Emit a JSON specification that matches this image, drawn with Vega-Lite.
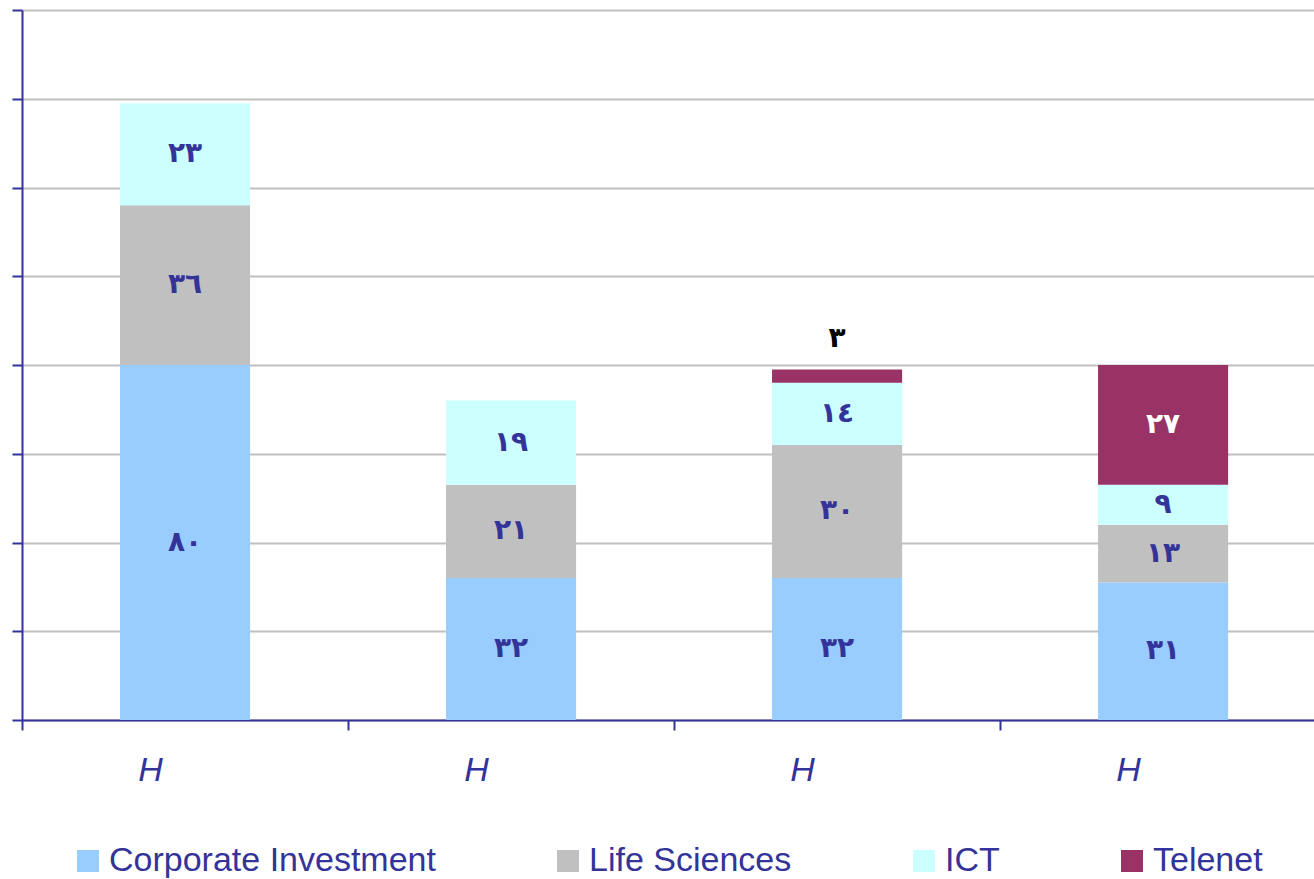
{
  "$schema": "https://vega.github.io/schema/vega-lite/v6.json",
  "width": 1292,
  "height": 710,
  "autosize": "none",
  "padding": {"left": 22, "top": 10, "right": 0, "bottom": 159},
  "background": "white",
  "config": {"view": {"stroke": null}},
  "data": {"values": [
    {"period": "1", "series": "Corporate Investment", "ord": 1, "value": 80, "label": "٨٠"},
    {"period": "1", "series": "Life Sciences", "ord": 2, "value": 36, "label": "٣٦"},
    {"period": "1", "series": "ICT", "ord": 3, "value": 23, "label": "٢٣"},
    {"period": "2", "series": "Corporate Investment", "ord": 1, "value": 32, "label": "٣٢"},
    {"period": "2", "series": "Life Sciences", "ord": 2, "value": 21, "label": "٢١"},
    {"period": "2", "series": "ICT", "ord": 3, "value": 19, "label": "١٩"},
    {"period": "3", "series": "Corporate Investment", "ord": 1, "value": 32, "label": "٣٢"},
    {"period": "3", "series": "Life Sciences", "ord": 2, "value": 30, "label": "٣٠"},
    {"period": "3", "series": "ICT", "ord": 3, "value": 14, "label": "١٤"},
    {"period": "3", "series": "Telenet", "ord": 4, "value": 3, "label": "٣"},
    {"period": "4", "series": "Corporate Investment", "ord": 1, "value": 31, "label": "٣١"},
    {"period": "4", "series": "Life Sciences", "ord": 2, "value": 13, "label": "١٣"},
    {"period": "4", "series": "ICT", "ord": 3, "value": 9, "label": "٩"},
    {"period": "4", "series": "Telenet", "ord": 4, "value": 27, "label": "٢٧"}
  ]},
  "encoding": {
    "x": {
      "field": "period", "type": "nominal", "sort": null,
      "scale": {"paddingInner": 0.601, "paddingOuter": 0.282, "align": 0.533},
      "axis": {
        "title": null, "labelExpr": "'H'", "labelAngle": 0,
        "tickOffset": -163, "labelOffset": 128,
        "labelFont": "Liberation Sans", "labelFontSize": 34, "labelFontStyle": "italic",
        "labelColor": "#333399", "labelPadding": 23,
        "domainColor": "#333399", "domainWidth": 2,
        "tickColor": "#333399", "tickWidth": 2, "tickSize": 10,
        "grid": false
      }
    },
    "y": {
      "field": "value", "type": "quantitative", "stack": "zero",
      "scale": {"domain": [0, 160], "nice": false},
      "axis": {
        "title": null, "labels": false, "values": [0, 20, 40, 60, 80, 100, 120, 140, 160],
        "domainColor": "#333399", "domainWidth": 2,
        "tickColor": "#333399", "tickWidth": 2, "tickSize": 10,
        "grid": true, "gridColor": "#c0c0c0", "gridWidth": 2
      }
    },
    "order": {"field": "ord", "type": "quantitative"}
  },
  "layer": [
    {
      "mark": {"type": "bar"},
      "encoding": {
        "color": {
          "field": "series", "type": "nominal",
          "scale": {
            "domain": ["Corporate Investment", "Life Sciences", "ICT", "Telenet"],
            "range": ["#99ccff", "#c0c0c0", "#ccffff", "#993366"]
          },
          "legend": {
            "title": null, "orient": "none", "direction": "horizontal",
            "legendX": 49, "legendY": 834, "padding": 0,
            "symbolType": "square", "symbolSize": 484, "symbolStrokeWidth": 0,
            "labelFont": "Liberation Sans", "labelFontSize": 34, "labelColor": "#333399",
            "labelOffset": 4, "labelLimit": 600, "columnPadding": 115
          }
        }
      }
    },
    {
      "mark": {"type": "text", "font": "DejaVu Sans", "fontWeight": "bold", "fontSize": 28, "baseline": "middle"},
      "encoding": {
        "y": {"field": "value", "type": "quantitative", "stack": "zero", "bandPosition": 0.5},
        "text": {"condition": {"test": "datum.series === 'Telenet' && datum.value < 5", "value": ""}, "field": "label"},
        "color": {"condition": {"test": "datum.series === 'Telenet'", "value": "white"}, "value": "#333399"}
      }
    },
    {
      "mark": {"type": "text", "font": "DejaVu Sans", "fontWeight": "bold", "fontSize": 28, "baseline": "middle", "dy": -30, "color": "black"},
      "encoding": {
        "text": {"condition": {"test": "!(datum.series === 'Telenet' && datum.value < 5)", "value": ""}, "field": "label"}
      }
    }
  ]
}
